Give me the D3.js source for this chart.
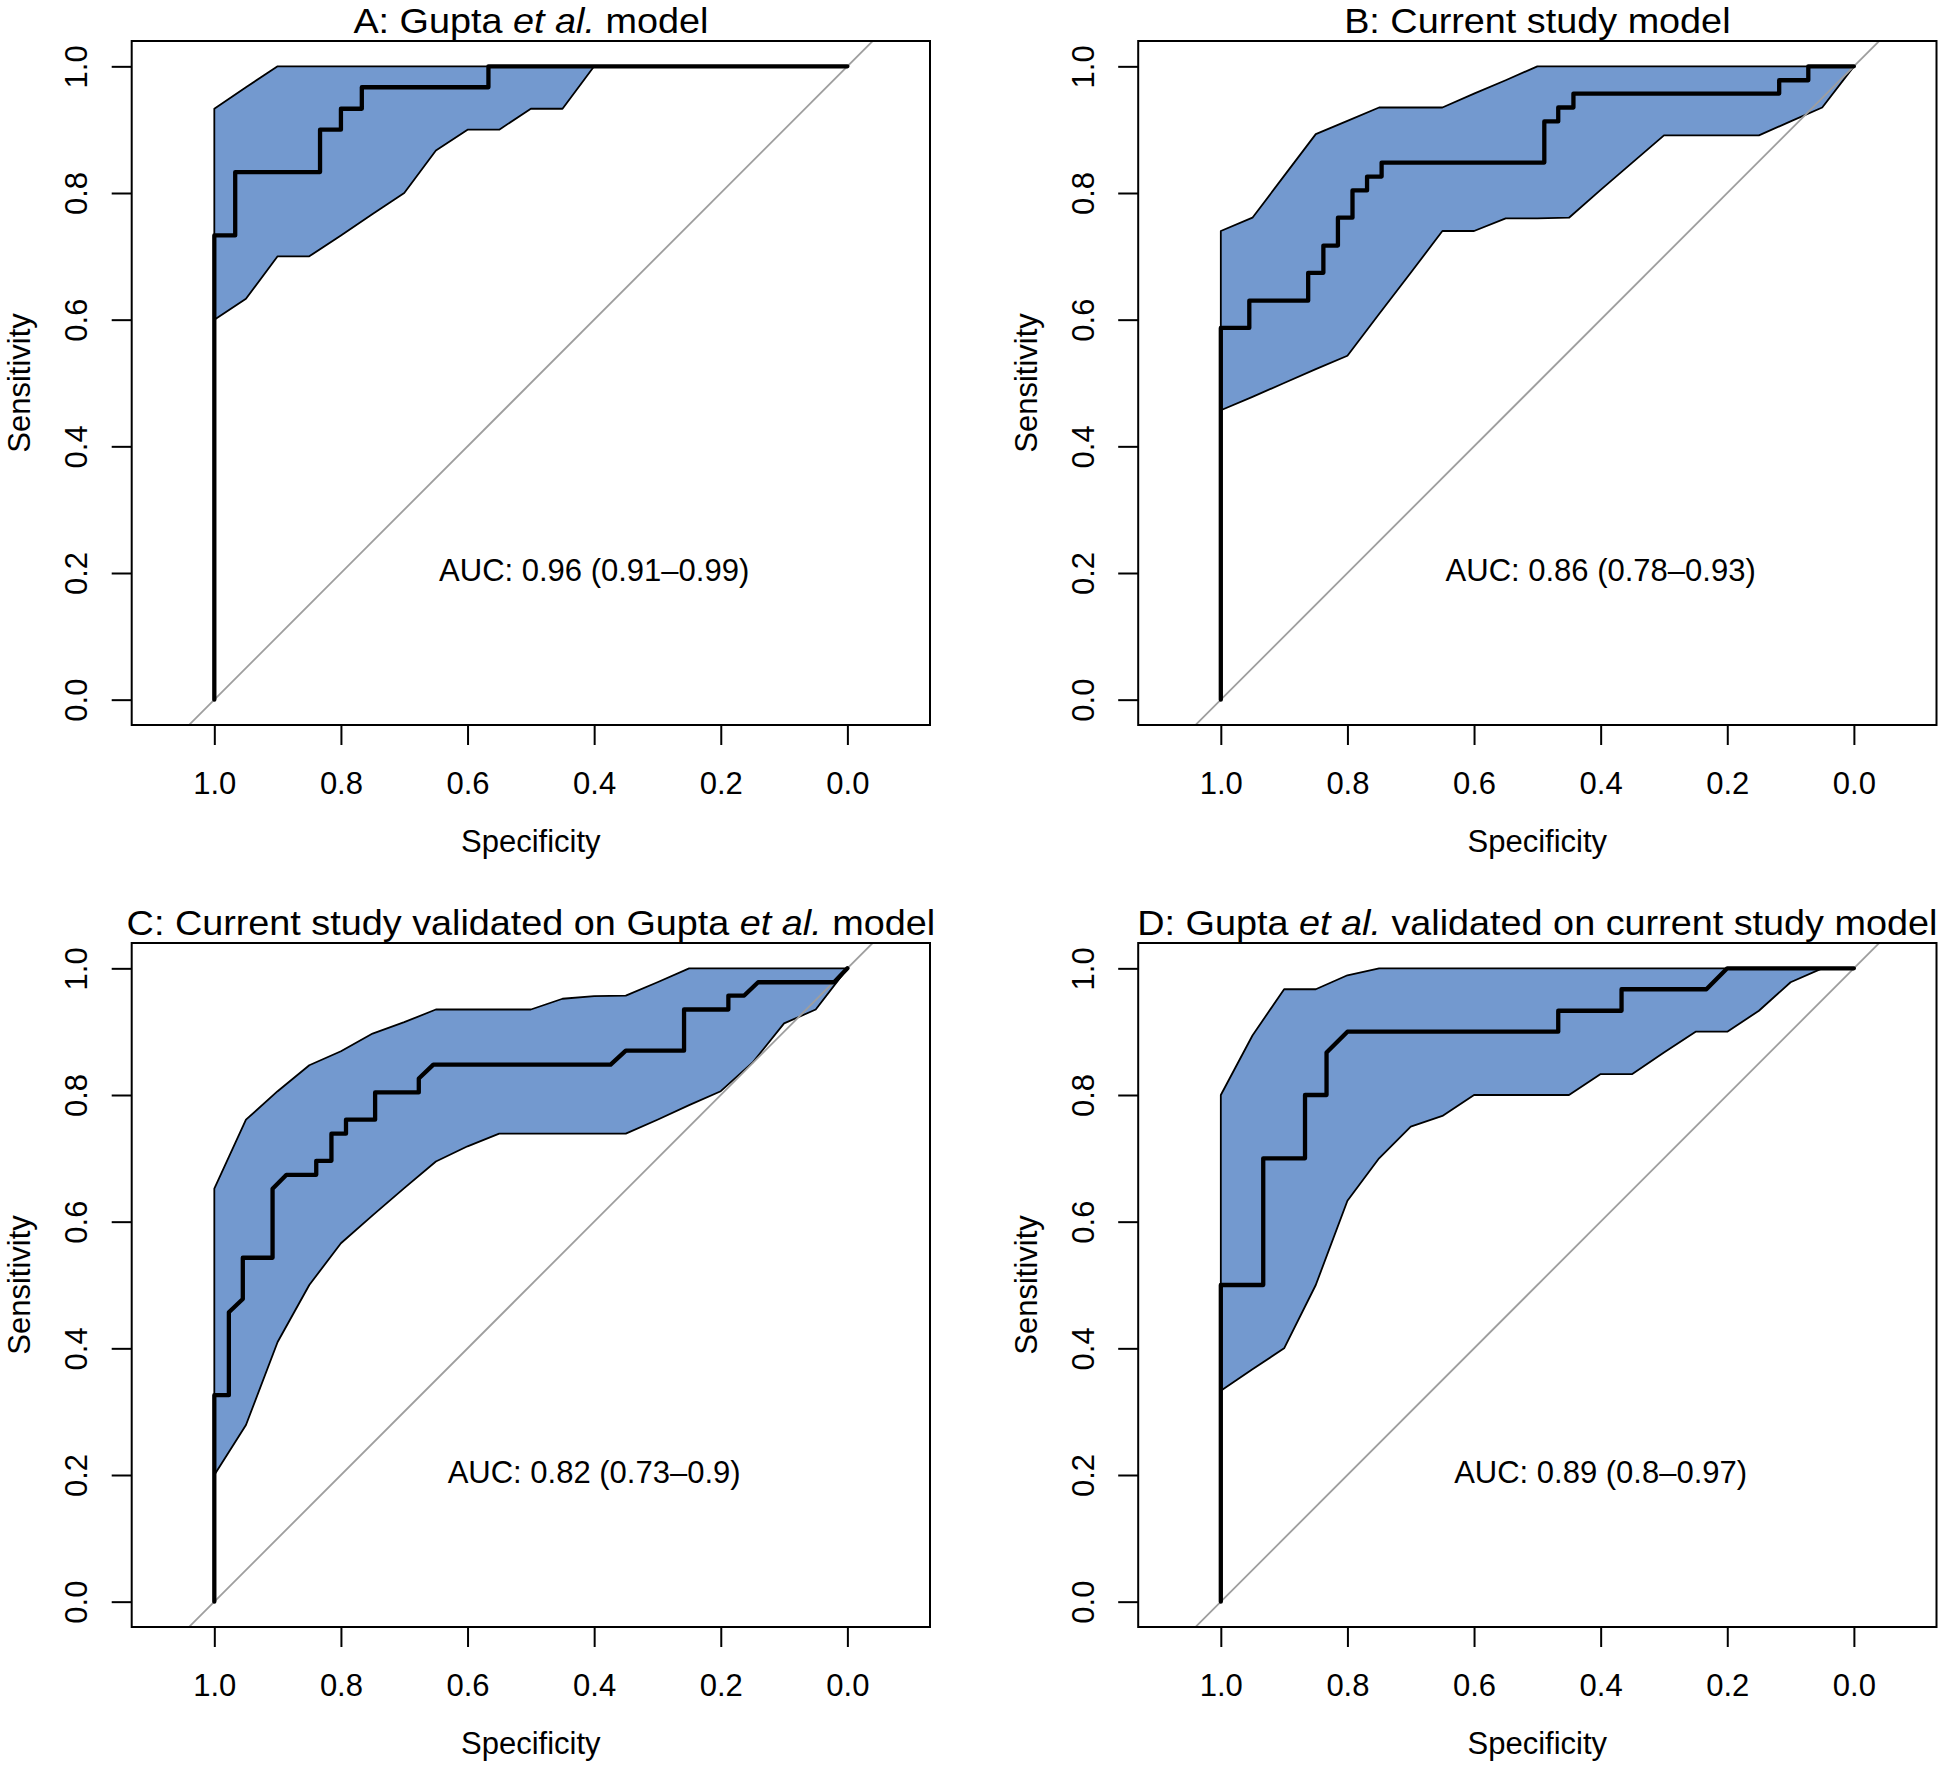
<!DOCTYPE html>
<html>
<head>
<meta charset="utf-8">
<script src="https://cdn.jsdelivr.net/npm/d3@7"></script>
<style>
  html, body { margin: 0; padding: 0; background: #ffffff; }
  svg text { font-family: "Liberation Sans", Arial, Helvetica, sans-serif; fill: #000; }
</style>
</head>
<body>
<svg id="chart" width="1944" height="1766"></svg>
<script>
// ---------------- data ----------------
const specTicks = [1.0, 0.8, 0.6, 0.4, 0.2, 0.0];
const sensTicks = [0.0, 0.2, 0.4, 0.6, 0.8, 1.0];
const xAxisLabel = "Specificity";
const yAxisLabel = "Sensitivity";

// titles as [text, italic] segments
const titleA = [["A: Gupta ", false], ["et al.", true], [" model", false]];
const titleB = [["B: Current study model", false]];
const titleC = [["C: Current study validated on Gupta ", false], ["et al.", true], [" model", false]];
const titleD = [["D: Gupta ", false], ["et al.", true], [" validated on current study model", false]];

const aucLabels = ["AUC: 0.96 (0.91\u20130.99)", "AUC: 0.86 (0.78\u20130.93)",
                   "AUC: 0.82 (0.73\u20130.9)", "AUC: 0.89 (0.8\u20130.97)"];

// ROC curve vertices (specificity, sensitivity)
const rocA_spec = [1, 1, 0.967, 0.967, 0.833, 0.833, 0.8, 0.8, 0.767, 0.767, 0.567, 0.567, 0];
const rocA_sens = [0, 0.733, 0.733, 0.833, 0.833, 0.9, 0.9, 0.933, 0.933, 0.967, 0.967, 1, 1];

const rocB_spec = [1, 1, 0.955, 0.955, 0.862, 0.862, 0.838, 0.838, 0.815, 0.815, 0.792, 0.792, 0.769, 0.769,
                   0.746, 0.746, 0.489, 0.489, 0.467, 0.467, 0.443, 0.443, 0.118, 0.118, 0.072, 0.072, 0];
const rocB_sens = [0, 0.587, 0.587, 0.630, 0.630, 0.674, 0.674, 0.717, 0.717, 0.761, 0.761, 0.804, 0.804, 0.826,
                   0.826, 0.848, 0.848, 0.913, 0.913, 0.935, 0.935, 0.957, 0.957, 0.978, 0.978, 1, 1];

const rocC_spec = [1, 1, 0.977, 0.977, 0.955, 0.955, 0.908, 0.908, 0.886, 0.839, 0.839, 0.815, 0.815, 0.792, 0.792,
                   0.746, 0.746, 0.677, 0.677, 0.654, 0.374, 0.350, 0.258, 0.258, 0.188, 0.188, 0.163, 0.141, 0.021, 0];
const rocC_sens = [0, 0.326, 0.326, 0.457, 0.478, 0.543, 0.543, 0.652, 0.674, 0.674, 0.696, 0.696, 0.739, 0.739, 0.761,
                   0.761, 0.804, 0.804, 0.826, 0.848, 0.848, 0.870, 0.870, 0.935, 0.935, 0.957, 0.957, 0.978, 0.978, 1];

const rocD_spec = [1, 1, 0.933, 0.933, 0.867, 0.867, 0.833, 0.833, 0.8, 0.467, 0.467, 0.367, 0.367, 0.233, 0.2, 0];
const rocD_sens = [0, 0.5, 0.5, 0.7, 0.7, 0.8, 0.8, 0.867, 0.9, 0.9, 0.933, 0.933, 0.967, 0.967, 1, 1];

// Sensitivity confidence band at fixed specificities
const ciA_spec  = [1, 0.95, 0.9, 0.85, 0.8, 0.75, 0.7, 0.65, 0.6, 0.55, 0.5, 0.45, 0.4, 0];
const ciA_lower = [0.6, 0.633, 0.7, 0.7, 0.733, 0.767, 0.8, 0.867, 0.9, 0.9, 0.933, 0.933, 1, 1];
const ciA_upper = [0.933, 0.967, 1, 1, 1, 1, 1, 1, 1, 1, 1, 1, 1, 1];

const ciB_spec  = [1, 0.95, 0.9, 0.85, 0.8, 0.75, 0.7, 0.65, 0.6, 0.55, 0.5, 0.45, 0.4, 0.35, 0.3, 0.25, 0.2, 0.15, 0.1, 0.05, 0];
const ciB_lower = [0.457, 0.478, 0.5, 0.522, 0.543, 0.609, 0.674, 0.74, 0.74, 0.76, 0.76, 0.761, 0.805, 0.848, 0.891, 0.891, 0.891, 0.891, 0.913, 0.935, 1];
const ciB_upper = [0.740, 0.761, 0.827, 0.893, 0.914, 0.935, 0.935, 0.935, 0.957, 0.978, 1, 1, 1, 1, 1, 1, 1, 1, 1, 1, 1];

const ciC_spec  = [1, 0.95, 0.9, 0.85, 0.8, 0.75, 0.7, 0.65, 0.6, 0.55, 0.5, 0.45, 0.4, 0.35, 0.3, 0.25, 0.2, 0.15, 0.1, 0.05, 0];
const ciC_lower = [0.2, 0.279, 0.41, 0.5, 0.566, 0.61, 0.653, 0.695, 0.719, 0.739, 0.739, 0.739, 0.739, 0.739, 0.761, 0.784, 0.806, 0.851, 0.913, 0.935, 1];
const ciC_upper = [0.652, 0.761, 0.806, 0.847, 0.869, 0.897, 0.915, 0.935, 0.935, 0.935, 0.935, 0.952, 0.956, 0.957, 0.978, 1, 1, 1, 1, 1, 1];

const ciD_spec  = [1, 0.95, 0.9, 0.85, 0.8, 0.75, 0.7, 0.65, 0.6, 0.55, 0.5, 0.45, 0.4, 0.35, 0.3, 0.25, 0.2, 0.15, 0.1, 0.05, 0];
const ciD_lower = [0.333, 0.367, 0.4, 0.5, 0.633, 0.7, 0.75, 0.767, 0.8, 0.8, 0.8, 0.8, 0.833, 0.833, 0.867, 0.9, 0.9, 0.933, 0.978, 1, 1];
const ciD_upper = [0.8, 0.894, 0.967, 0.967, 0.989, 1, 1, 1, 1, 1, 1, 1, 1, 1, 1, 1, 1, 1, 1, 1, 1];

const aucPos = [0.4, 0.2]; // specificity, sensitivity where the AUC text is centred

// ---------------- drawing ----------------
const panels = [
  {title: titleA, auc: aucLabels[0], rs: rocA_spec, re: rocA_sens, cs: ciA_spec, cl: ciA_lower, cu: ciA_upper, dx: 0,      dy: 0},
  {title: titleB, auc: aucLabels[1], rs: rocB_spec, re: rocB_sens, cs: ciB_spec, cl: ciB_lower, cu: ciB_upper, dx: 1006.5, dy: 0},
  {title: titleC, auc: aucLabels[2], rs: rocC_spec, re: rocC_sens, cs: ciC_spec, cl: ciC_lower, cu: ciC_upper, dx: 0,      dy: 902},
  {title: titleD, auc: aucLabels[3], rs: rocD_spec, re: rocD_sens, cs: ciD_spec, cl: ciD_lower, cu: ciD_upper, dx: 1006.5, dy: 902}
];

const svg = d3.select("#chart");
const box = {left: 131.7, right: 930, top: 41, bottom: 725};
const baseFont = 31, titleFont = 35;

panels.forEach((p, i) => {
  const g = svg.append("g").attr("transform", `translate(${p.dx},${p.dy})`);
  const x = d3.scaleLinear().domain([1.1305, -0.1305]).range([box.left, box.right]);
  const y = d3.scaleLinear().domain([-0.04, 1.04]).range([box.bottom, box.top]);

  const clipId = "clip" + i;
  g.append("clipPath").attr("id", clipId)
    .append("rect").attr("x", box.left).attr("y", box.top)
    .attr("width", box.right - box.left).attr("height", box.bottom - box.top);

  const plot = g.append("g").attr("clip-path", `url(#${clipId})`);

  // confidence band polygon
  const upperPts = p.cs.map((s, k) => [s, p.cu[k]]);
  const lowerPts = p.cs.map((s, k) => [s, p.cl[k]]).reverse();
  const poly = upperPts.concat(lowerPts);
  plot.append("path")
    .attr("d", d3.line().x(d => x(d[0])).y(d => y(d[1]))(poly) + "Z")
    .attr("fill", "#7399CF").attr("stroke", "#000").attr("stroke-width", 1.8)
    .attr("stroke-linejoin", "round");

  // identity line
  plot.append("line")
    .attr("x1", x(1.2)).attr("y1", y(-0.2)).attr("x2", x(-0.2)).attr("y2", y(1.2))
    .attr("stroke", "#9E9E9E").attr("stroke-width", 1.8);

  // ROC curve
  const roc = p.rs.map((s, k) => [s, p.re[k]]);
  plot.append("path")
    .attr("d", d3.line().x(d => x(d[0])).y(d => y(d[1]))(roc))
    .attr("fill", "none").attr("stroke", "#000").attr("stroke-width", 4.3)
    .attr("stroke-linejoin", "round").attr("stroke-linecap", "round");

  // box
  g.append("rect").attr("x", box.left).attr("y", box.top)
    .attr("width", box.right - box.left).attr("height", box.bottom - box.top)
    .attr("fill", "none").attr("stroke", "#000").attr("stroke-width", 2);

  // x axis
  const xa = g.append("g").attr("transform", `translate(0,${box.bottom})`)
    .call(d3.axisBottom(x).tickValues(specTicks).tickFormat(d3.format(".1f"))
      .tickSize(20).tickSizeOuter(0).tickPadding(27));
  xa.select(".domain").remove();
  xa.selectAll(".tick line").attr("stroke", "#000").attr("stroke-width", 2);
  xa.selectAll(".tick text").attr("font-size", baseFont)
    .attr("font-family", '"Liberation Sans", Arial, Helvetica, sans-serif').attr("fill", "#000");

  // y axis
  const ya = g.append("g").attr("transform", `translate(${box.left},0)`)
    .call(d3.axisLeft(y).tickValues(sensTicks).tickFormat(d3.format(".1f"))
      .tickSize(20).tickSizeOuter(0));
  ya.select(".domain").remove();
  ya.selectAll(".tick line").attr("stroke", "#000").attr("stroke-width", 2);
  ya.selectAll(".tick text")
    .attr("x", null).attr("dy", null)
    .attr("text-anchor", "middle")
    .attr("transform", "translate(-44.4,0) rotate(-90)")
    .attr("font-size", baseFont)
    .attr("font-family", '"Liberation Sans", Arial, Helvetica, sans-serif').attr("fill", "#000");

  const cx = (box.left + box.right) / 2;
  const cy = (box.top + box.bottom) / 2;

  // title (slightly widened to match the reference glyph proportions)
  const t = g.append("text").attr("transform", `translate(${cx},33) scale(1.08,1)`)
    .attr("text-anchor", "middle").attr("font-size", titleFont);
  p.title.forEach(seg => {
    t.append("tspan").text(seg[0]).attr("font-style", seg[1] ? "italic" : "normal");
  });

  // axis titles
  g.append("text").attr("x", cx).attr("y", 851.7)
    .attr("text-anchor", "middle").attr("font-size", baseFont).text(xAxisLabel);
  g.append("text").attr("transform", `translate(30,${cy}) rotate(-90)`)
    .attr("text-anchor", "middle").attr("font-size", baseFont).text(yAxisLabel);

  // AUC label
  g.append("text").attr("x", x(aucPos[0])).attr("y", y(aucPos[1]) + 8)
    .attr("text-anchor", "middle").attr("font-size", baseFont).text(p.auc);
});
</script>
</body>
</html>
